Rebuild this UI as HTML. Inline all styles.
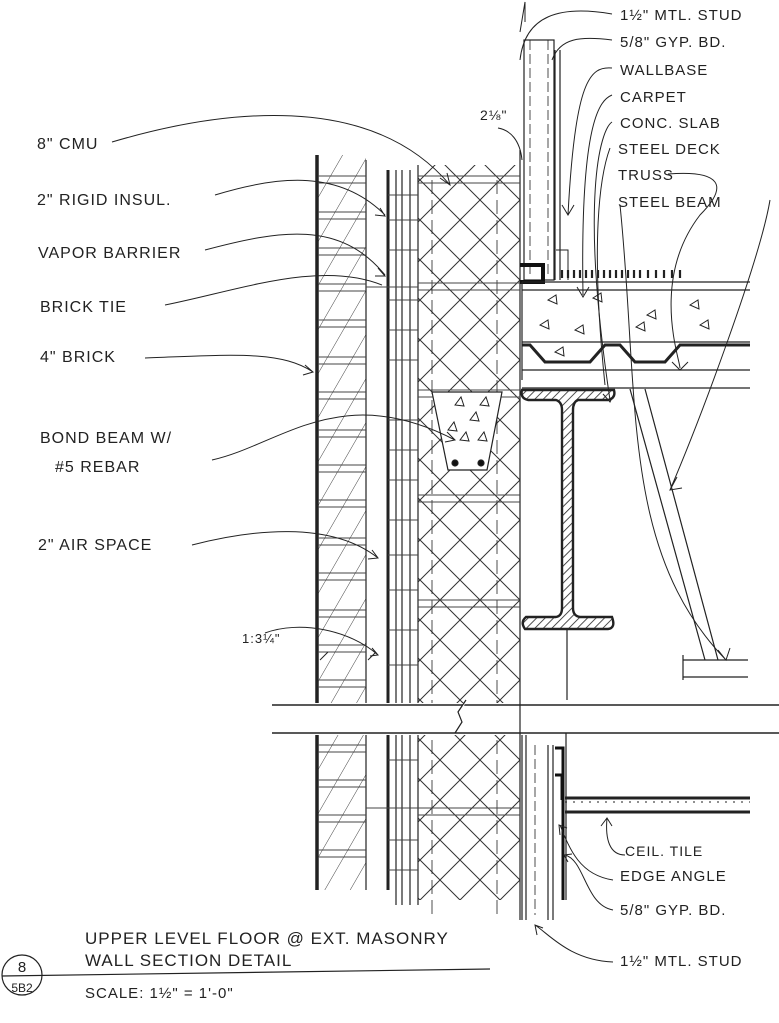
<!DOCTYPE html>
<html><head><meta charset="utf-8"><style>
html,body{margin:0;padding:0;background:#fff}
svg{display:block}
text{font-family:"Liberation Sans",sans-serif;font-size:16px;fill:#222;letter-spacing:1px}
</style></head><body>
<svg width="779" height="1023" viewBox="0 0 779 1023" xmlns="http://www.w3.org/2000/svg">
<defs>
<pattern id="xh" width="40" height="40" patternUnits="userSpaceOnUse">
<path d="M0 0L40 40M40 0L0 40" stroke="#333" stroke-width="1"/>
</pattern>
<pattern id="br" width="22" height="22" patternUnits="userSpaceOnUse" patternTransform="rotate(30)">
<path d="M0 0V22" stroke="#444" stroke-width="1"/>
</pattern>
<pattern id="hat" width="6" height="6" patternUnits="userSpaceOnUse" patternTransform="rotate(45)">
<path d="M0 0V6" stroke="#222" stroke-width="1.6"/>
</pattern>
</defs>
<g fill="none" stroke="#222" stroke-width="1.2">
<rect x="318" y="155" width="48" height="548" fill="url(#br)" stroke="none"/>
<rect x="418" y="165" width="102" height="538" fill="url(#xh)" stroke="none"/>
<rect x="418" y="735" width="102" height="165" fill="url(#xh)" stroke="none"/>
<rect x="318" y="735" width="48" height="155" fill="url(#br)" stroke="none"/>
<path d="M317 155V703M317 735V890" stroke-width="3.5"/>
<path d="M366 160V703M366 735V890"/>
<path d="M388 170V703M388 735V890" stroke-width="3"/>
<path d="M396 170V703M402 170V703M410 170V703M418 165V703M396 735V905M402 735V905M410 735V905M418 735V905"/>
<path d="M520 150V920"/>
<path d="M432 180V703M497 180V703M432 740V920M497 740V920" stroke-dasharray="14 6" stroke-width="0.8"/>
<g stroke-width="1" stroke="#444">
<path d="M318 176H366M318 183H366M318 212H366M318 219H366M318 248H366M318 255H366M318 284H366M318 291H366M318 320H366M318 327H366M318 357H366M318 364H366M318 392H366M318 399H366M318 430H366M318 437H366M318 465H366M318 472H366M318 500H366M318 507H366M318 538H366M318 545H366M318 573H366M318 580H366M318 610H366M318 617H366M318 645H366M318 652H366M318 680H366M318 687H366M318 745H366M318 752H366M318 780H366M318 787H366M318 815H366M318 822H366M318 850H366M318 857H366"/>
<path d="M418 176H520M418 183H520M418 283H520M418 290H520M418 390H520M418 397H520M418 495H520M418 502H520M418 600H520M418 607H520M418 808H520M418 815H520M366 287H418M366 808H418"/>
<path d="M388 195H418M388 220H418M388 250H418M388 300H418M388 330H418M388 360H418M388 420H418M388 450H418M388 480H418M388 520H418M388 555H418M388 590H418M388 630H418M388 665H418M388 760H418M388 840H418M388 870H418"/>
</g>
<path d="M432 392L502 392L487 470L448 470Z" fill="#fff"/>
<circle cx="455" cy="463" r="3" fill="#111"/><circle cx="481" cy="463" r="3" fill="#111"/>
<g stroke-width="1"><path d="M455 405l6 -8l3 9zM470 420l6 -8l3 9zM480 405l6 -8l3 9zM460 440l6 -8l3 9zM478 440l6 -8l3 9zM448 430l6 -8l3 9z"/></g>
<path d="M272 705H779M272 733H779" stroke-width="1.4"/>
<path d="M455 733L462 722L458 712L466 700" fill="#fff" stroke-width="1.2"/>
<rect x="524" y="40" width="30" height="240" fill="#fff"/>
<path d="M530 40V275M548 40V275" stroke-dasharray="10 4" stroke-width="0.8"/>
<path d="M555 50V280M560 50V280" />
<path d="M520 265H543V282H520" stroke-width="4" stroke="#111"/>
<path d="M556 250H568V280" stroke-width="1"/>
<path d="M562 270V278M568 270V278M574 270V278M580 270V278M586 270V278M592 270V278M598 270V278M604 270V278M610 270V278M616 270V278M622 270V278M628 270V278M634 270V278M640 270V278M648 270V278M656 270V278M664 270V278M672 270V278M680 270V278" stroke-width="2.2"/>
<path d="M522 282H750M522 290H750M522 342H750"/>
<path d="M522 282V380"/>
<path d="M522 345H530L545 362H590L605 345H620L635 362H665L680 345H750" stroke-width="3"/>
<g stroke-width="1"><path d="M548 300l8 -5l1 9zM575 330l8 -5l1 9zM593 298l8 -5l1 9zM647 315l8 -5l1 9zM690 305l8 -5l1 9zM700 325l8 -5l1 9zM636 327l8 -5l1 9zM540 325l8 -5l1 9zM555 352l8 -5l1 9z"/></g>
<path d="M522 370H750M522 388H750"/>
<path d="M522 390H614Q616 398 608 400H578Q573 402 573 410V608Q573 616 580 617H612Q616 628 608 629H525Q520 622 526 617H556Q562 616 562 608V410Q562 402 556 400H528Q520 398 522 390Z" fill="url(#hat)" stroke-width="2.4"/>
<path d="M567 630V700"/>
<path d="M630 389L705 660M645 389L718 660"/>
<path d="M683 660H748M683 677H748M683 655V680"/>
<path d="M522 735V920M526 735V920M548 745V920M553 745V920"/>
<path d="M535 745V915" stroke-dasharray="10 4" stroke-width="0.8"/>
<path d="M555 748H563V900M555 775H562V800" stroke-width="3" stroke="#111"/>
<path d="M565 798H750M565 812H750" stroke-width="3"/>
<path d="M565 802H750" stroke-dasharray="2 6" stroke-width="1"/>
<path d="M566 733V900"/>
<g stroke-width="1">
<path d="M112 142C220 110 370 90 450 185M440 178l10 7l-3 -12"/>
<path d="M215 195C280 175 340 170 385 215M380 208l5 8l-10 -1"/>
<path d="M205 250C280 230 340 220 385 275M378 268l7 8l-10 0"/>
<path d="M165 305C240 290 320 260 382 285"/>
<path d="M145 358C230 355 280 350 313 372M305 365l8 7l-10 3"/>
<path d="M212 460C280 445 340 380 455 440M447 432l8 8l-10 2"/>
<path d="M192 545C250 530 330 520 378 558M372 550l6 8l-10 1"/>
<path d="M265 633C300 620 350 630 378 655M372 648l6 7l-8 1"/>
<path d="M320 660L328 652M368 660L376 652"/>
<path d="M612 14C560 5 525 15 520 60M525 22l0 -20l-5 30"/>
<path d="M612 40C580 36 560 38 552 60"/>
<path d="M612 68C590 66 575 80 568 215M562 205l6 10l6 -10"/>
<path d="M612 95C600 100 580 120 583 295M577 287l6 10l6 -10"/>
<path d="M612 122C600 130 580 200 610 400M603 394l7 8l5 -10"/>
<path d="M610 148C600 175 590 240 605 385"/>
<path d="M668 174C720 170 730 185 700 215C650 280 680 360 680 368M672 362l8 8l8 -8"/>
<path d="M770 200C760 260 700 420 670 490M677 477l-7 13l12 -2"/>
<path d="M620 205C640 400 620 550 726 660M718 650l8 10l4 -12"/>
<path d="M498 128C510 130 520 140 522 160"/>
<path d="M625 855C610 855 605 840 607 818M601 826l6 -8l5 8"/>
<path d="M613 880C580 875 570 850 560 825M560 835l-1 -10l8 3"/>
<path d="M613 910C585 905 585 860 565 855M568 862l-4 -7l8 -1"/>
<path d="M613 962C570 960 550 935 535 925M537 935l-2 -10l8 3"/>
</g>
<circle cx="22" cy="975" r="20"/>
<path d="M2 976L490 969" stroke-width="1.2"/>
</g>
<g>
<text x="37" y="149">8" CMU</text>
<text x="37" y="205">2" RIGID INSUL.</text>
<text x="38" y="258">VAPOR BARRIER</text>
<text x="40" y="312">BRICK TIE</text>
<text x="40" y="362">4" BRICK</text>
<text x="40" y="443">BOND BEAM W/</text>
<text x="55" y="472">#5 REBAR</text>
<text x="38" y="550">2" AIR SPACE</text>
<text x="242" y="643" style="font-size:13px">1:3¼"</text>
<text x="480" y="120" style="font-size:14px">2⅛"</text>
<text x="620" y="20" style="font-size:15px">1½" MTL. STUD</text>
<text x="620" y="47" style="font-size:15px">5/8" GYP. BD.</text>
<text x="620" y="75" style="font-size:15px">WALLBASE</text>
<text x="620" y="102" style="font-size:15px">CARPET</text>
<text x="620" y="128" style="font-size:15px">CONC. SLAB</text>
<text x="618" y="154" style="font-size:15px">STEEL DECK</text>
<text x="618" y="180" style="font-size:15px">TRUSS</text>
<text x="618" y="207" style="font-size:15px">STEEL BEAM</text>
<text x="625" y="856" style="font-size:14px">CEIL. TILE</text>
<text x="620" y="881" style="font-size:15px">EDGE ANGLE</text>
<text x="620" y="915" style="font-size:15px">5/8" GYP. BD.</text>
<text x="620" y="966" style="font-size:15px">1½" MTL. STUD</text>
<text x="85" y="944" style="font-size:17px">UPPER LEVEL FLOOR @ EXT. MASONRY</text>
<text x="85" y="966" style="font-size:17px">WALL SECTION DETAIL</text>
<text x="85" y="998" style="font-size:15px">SCALE: 1½" = 1'-0"</text>
<text x="22" y="972" text-anchor="middle" style="font-size:15px;letter-spacing:0">8</text>
<text x="22" y="992" text-anchor="middle" style="font-size:12px;letter-spacing:0">5B2</text>
</g>
</svg>
</body></html>
